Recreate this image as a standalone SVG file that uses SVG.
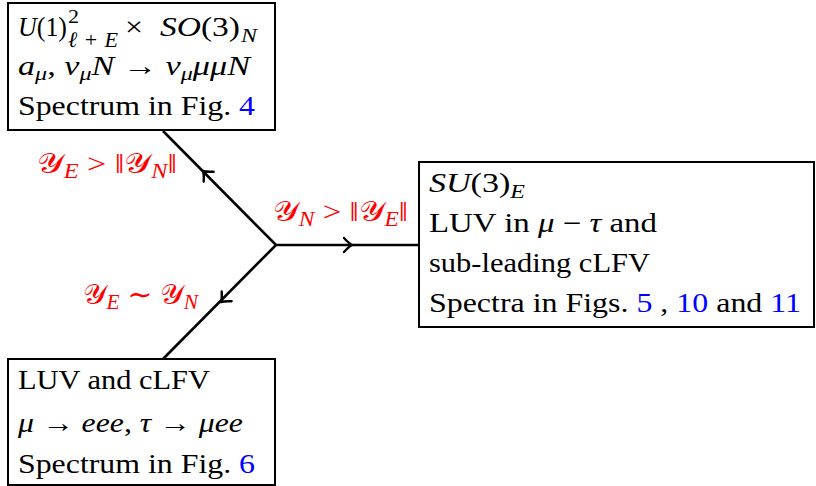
<svg xmlns="http://www.w3.org/2000/svg" xmlns:xlink="http://www.w3.org/1999/xlink" width="816" height="486" viewBox="0 0 816 486">
<style>
.box{fill:#fff;stroke:#000;stroke-width:2}
.t{font-family:"Liberation Serif","DejaVu Serif",serif;font-size:27px;fill:#000}
.i{font-style:italic}
.s{font-size:19px}
.ss{font-size:22px}
.b{fill:#0000ff}
.r{font-family:"Liberation Serif","DejaVu Serif",serif;font-size:28px;fill:#ff0000}
.y{font-family:"DejaVu Serif","DejaVu Sans",serif;font-weight:normal}
.rs{font-size:20px;font-style:italic}
.ln{fill:none;stroke:#000;stroke-width:2.6}
.ah{fill:none;stroke:#000;stroke-width:2.4;stroke-linecap:round;stroke-linejoin:round}
</style>
<defs>
<path id="chev" d="M-8,-7 Q-3,-1.5 0,0 Q-3,1.5 -8,7"/>
</defs>
<rect width="816" height="486" fill="#fff"/>
<g id="connectors">
<path class="ln" d="M163,131 L276,245 L418,245 M276,245 L163,359"/>
<use href="#chev" class="ah" transform="translate(203,171) rotate(225)"/>
<use href="#chev" class="ah" transform="translate(352,245)"/>
<use href="#chev" class="ah" transform="translate(221,302) rotate(135)"/>
</g>
<g id="node-u1so3">
<rect class="box" x="8" y="3" width="267" height="127"/>
<text class="t" x="18" y="36" textLength="49" lengthAdjust="spacingAndGlyphs"><tspan class="i">U</tspan>(1)</text>
<text class="t s" x="68" y="23" textLength="11" lengthAdjust="spacingAndGlyphs">2</text>
<text class="t ss" x="68" y="47" textLength="50" lengthAdjust="spacing"><tspan class="i">ℓ</tspan>+<tspan class="i">E</tspan></text>
<text class="t" x="125" y="36" textLength="18" lengthAdjust="spacingAndGlyphs">×</text>
<text class="t" x="160" y="36" textLength="80" lengthAdjust="spacingAndGlyphs"><tspan class="i">SO</tspan>(3)</text>
<text class="t s i" x="241" y="42" textLength="16" lengthAdjust="spacingAndGlyphs">N</text>
<text class="t" x="18" y="75" textLength="232" lengthAdjust="spacingAndGlyphs"><tspan class="i">a</tspan><tspan class="i s" dy="5">μ</tspan><tspan dy="-5">, </tspan><tspan class="i">ν</tspan><tspan class="i s" dy="5">μ</tspan><tspan class="i" dy="-5">N</tspan> → <tspan class="i">ν</tspan><tspan class="i s" dy="5">μ</tspan><tspan class="i" dy="-5">μμN</tspan></text>
<text class="t" x="18" y="115" textLength="237" lengthAdjust="spacingAndGlyphs">Spectrum in Fig. <tspan class="b">4</tspan></text>
</g>
<g id="node-su3">
<rect class="box" x="419" y="162" width="395" height="165"/>
<text class="t" x="429" y="192" textLength="96" lengthAdjust="spacingAndGlyphs"><tspan class="i">SU</tspan>(3)<tspan class="i s" dy="6">E</tspan></text>
<text class="t" x="429" y="232" textLength="228" lengthAdjust="spacingAndGlyphs">LUV in <tspan class="i">μ</tspan> − <tspan class="i">τ</tspan> and</text>
<text class="t" x="429" y="272" textLength="221" lengthAdjust="spacingAndGlyphs">sub-leading cLFV</text>
<text class="t" x="429" y="312" textLength="372" lengthAdjust="spacingAndGlyphs">Spectra in Figs. <tspan class="b">5</tspan> , <tspan class="b">10</tspan> and <tspan class="b">11</tspan></text>
</g>
<g id="node-luv">
<rect class="box" x="8" y="359" width="267" height="126"/>
<text class="t" x="18" y="389" textLength="192" lengthAdjust="spacingAndGlyphs">LUV and cLFV</text>
<text class="t" x="18" y="432" textLength="225" lengthAdjust="spacingAndGlyphs"><tspan class="i">μ</tspan> → <tspan class="i">eee</tspan>, <tspan class="i">τ</tspan> → <tspan class="i">μee</tspan></text>
<text class="t" x="18" y="473" textLength="237" lengthAdjust="spacingAndGlyphs">Spectrum in Fig. <tspan class="b">6</tspan></text>
</g>
<g id="labels">
<text class="r" x="37" y="173" textLength="140" lengthAdjust="spacingAndGlyphs"><tspan class="y">𝒴</tspan><tspan class="rs" dy="5">E</tspan><tspan dy="-5"> &gt; ‖</tspan><tspan class="y">𝒴</tspan><tspan class="rs" dy="5">N</tspan><tspan dy="-5">‖</tspan></text>
<text class="r" x="273" y="221" textLength="135" lengthAdjust="spacingAndGlyphs"><tspan class="y">𝒴</tspan><tspan class="rs" dy="5">N</tspan><tspan dy="-5"> &gt; ‖</tspan><tspan class="y">𝒴</tspan><tspan class="rs" dy="5">E</tspan><tspan dy="-5">‖</tspan></text>
<text class="r" x="83" y="304" textLength="115" lengthAdjust="spacingAndGlyphs"><tspan class="y">𝒴</tspan><tspan class="rs" dy="5">E</tspan><tspan dy="-5"> ∼ </tspan><tspan class="y">𝒴</tspan><tspan class="rs" dy="5">N</tspan></text>
</g>
</svg>
